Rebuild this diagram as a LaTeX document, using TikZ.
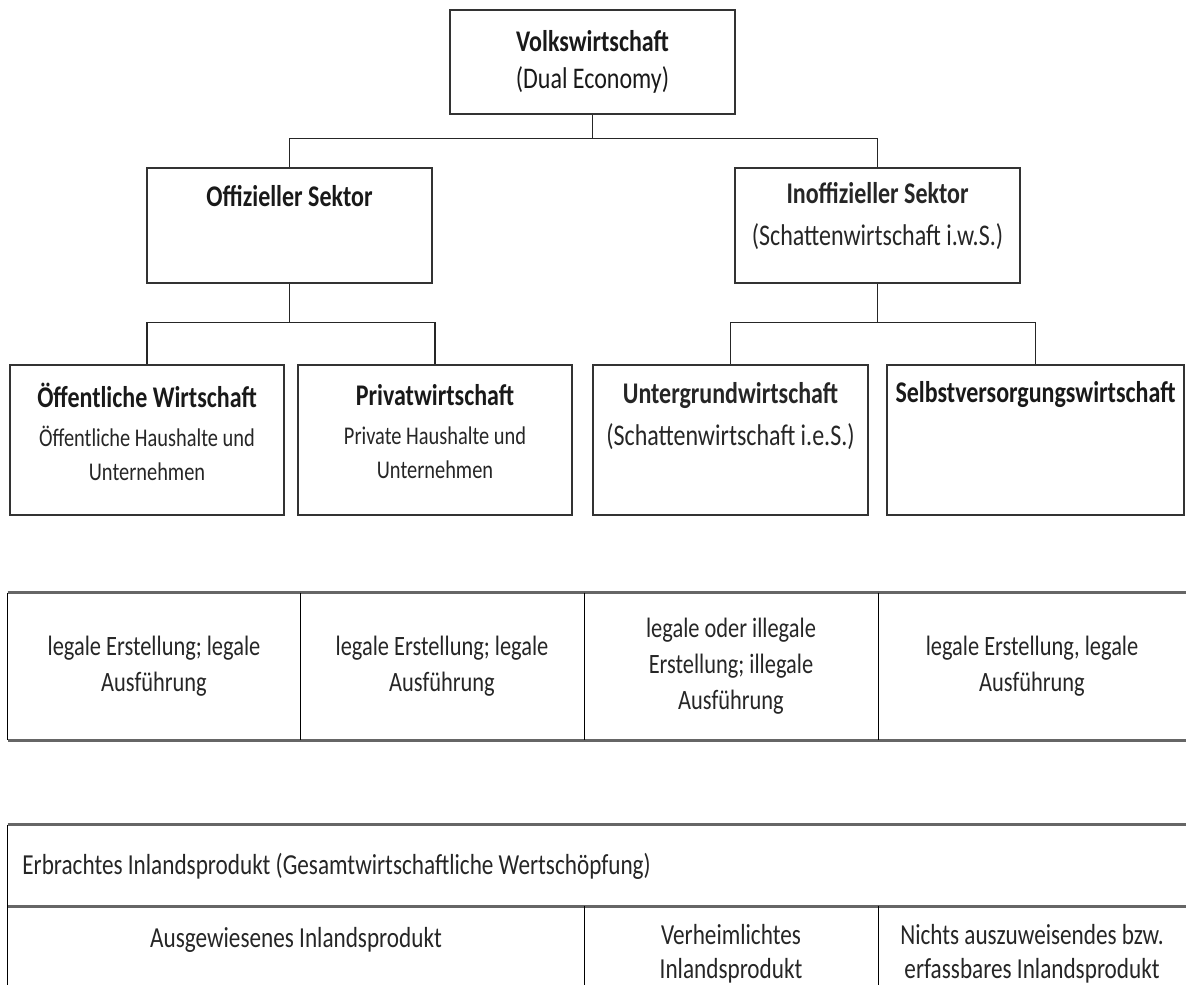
\documentclass[tikz,border=0pt]{standalone}
\usepackage{fontspec}
\setmainfont{Carlito}[FakeStretch=0.8]
\usepackage{tikz}

\begin{document}
\begin{tikzpicture}[x=0.5pt,y=-0.5pt,
  box/.style={draw=black!80,line width=0.8pt,inner sep=0pt},
  head/.style={font=\fontsize{15}{21}\selectfont\bfseries,text=black!90,inner sep=0pt,align=center},
  sub/.style={font=\fontsize{15}{21}\selectfont,text=black!85,inner sep=0pt,align=center},
  small/.style={font=\fontsize{12.75}{17}\selectfont,text=black!85,inner sep=0pt,align=center},
  cell/.style={font=\fontsize{14}{18}\selectfont,text=black!85,inner sep=0pt,align=center},
  wide/.style={font=\fontsize{14.5}{17}\selectfont,text=black!85,inner sep=0pt,align=center},
  link/.style={draw=black!85,line width=0.6pt},
  rule/.style={draw=black!60,line width=1.6pt},
  sep/.style={draw=black,line width=0.6pt}]
\fill[white] (0,0) rectangle (1186,985);
\useasboundingbox (0,0) rectangle (1186,985);

% organisation chart
\node[box,minimum width=142.5pt,minimum height=52pt,font=\fontsize{15}{18.5}\selectfont,align=center,text=black!90] (vw) at (592.5,62) {\textbf{Volkswirtschaft}\\(Dual Economy)};

\node[box,minimum width=142.5pt,minimum height=57.5pt] (off) at (289.5,225.5) {};
\node[head] (offT) at (289.5,196) {Offizieller Sektor};
\node[box,minimum width=142.5pt,minimum height=57.5pt] (inoff) at (877.5,225.5) {};
\node[sub] (inoffT) at (877.5,216) {\textbf{Inoffizieller Sektor}\\(Schattenwirtschaft i.w.S.)};

\node[box,minimum width=137pt,minimum height=75pt] (oeff) at (147,440) {};
\node[head] (oeffT) at (147,395) {Öffentliche Wirtschaft};
\node[small] (oeffS) at (147,453) {Öffentliche Haushalte und\\Unternehmen};
\node[box,minimum width=137pt,minimum height=75pt] (priv) at (435,440) {};
\node[head] (privT) at (435,395) {Privatwirtschaft};
\node[small] (privS) at (435,453) {Private Haushalte und\\Unternehmen};
\node[box,minimum width=137.5pt,minimum height=75pt] (unter) at (730.5,440) {};
\node[sub] (unterT) at (730.5,416) {\textbf{Untergrundwirtschaft}\\(Schattenwirtschaft i.e.S.)};
\node[box,minimum width=148.5pt,minimum height=75pt] (selbst) at (1035.5,440) {};
\node[head] (selbstT) at (1035.5,395) {Selbstversorgungswirtschaft};

\draw[link] (vw.south) -- ++(0,24) -| (off.north);
\draw[link] (vw.south) -- ++(0,24) -| (inoff.north);
\draw[link] (off.south) -- ++(0,39) -| (oeff.north);
\draw[link] (off.south) -- ++(0,39) -| (priv.north);
\draw[link] (inoff.south) -- ++(0,39) -| (unter.north);
\draw[link] (inoff.south) -- ++(0,39) -| (selbst.north);

% legality table
\node[cell,minimum width=146pt,minimum height=73.5pt] (ta) at (154,666.5) {legale Erstellung; legale\\Ausführung};
\node[cell,minimum width=142pt,minimum height=73.5pt] (tb) at (442,666.5) {legale Erstellung; legale\\Ausführung};
\node[cell,minimum width=147pt,minimum height=73.5pt] (tc) at (731,666.5) {legale oder illegale\\Erstellung; illegale\\Ausführung};
\node[cell,minimum width=154pt,minimum height=73.5pt] (td) at (1032,666.5) {legale Erstellung, legale\\Ausführung};
\draw[rule] (ta.north west) -- (td.north east);
\draw[rule] (ta.south west) -- (td.south east);
\draw[sep] (ta.north west) -- (ta.south west);
\draw[sep] (ta.north east) -- (ta.south east);
\draw[sep] (tb.north east) -- (tb.south east);
\draw[sep] (tc.north east) -- (tc.south east);

% product table
\node[minimum width=589pt,minimum height=40.5pt,inner sep=0pt] (pr) at (597,865.5) {};
\node[wide,anchor=west] (prT) at (22,866) {Erbrachtes Inlandsprodukt (Gesamtwirtschaftliche Wertschöpfung)};
\node[minimum width=288pt,minimum height=39.5pt,inner sep=0pt] (pa) at (296,945.5) {};
\node[minimum width=147pt,minimum height=39.5pt,inner sep=0pt] (pb) at (731,945.5) {};
\node[minimum width=154pt,minimum height=39.5pt,inner sep=0pt] (pc) at (1032,945.5) {};
\node[wide] (paT) at (296,940) {Ausgewiesenes Inlandsprodukt};
\node[wide] (pbT) at (731,954) {Verheimlichtes\\Inlandsprodukt};
\node[wide] (pcT) at (1032,954) {Nichts auszuweisendes bzw.\\erfassbares Inlandsprodukt};
\draw[rule] (pr.north west) -- (pr.north east);
\draw[rule] (pr.south west) -- (pr.south east);
\draw[sep] (pr.north west) -- (pa.south west);
\draw[sep] (pa.north east) -- (pa.south east);
\draw[sep] (pb.north east) -- (pb.south east);
\end{tikzpicture}
\end{document}
